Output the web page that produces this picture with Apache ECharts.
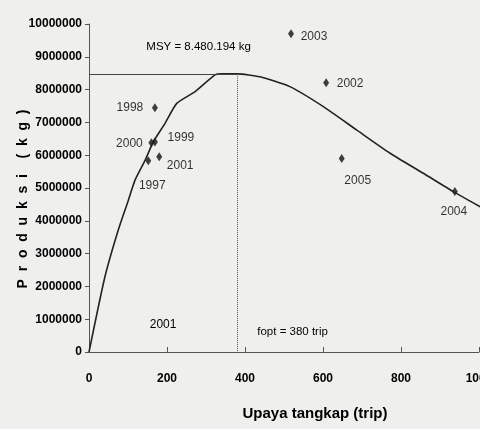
<!DOCTYPE html>
<html>
<head>
<meta charset="utf-8">
<script src="https://cdn.jsdelivr.net/npm/echarts@6/dist/echarts.min.js"></script>
<style>
html,body{margin:0;padding:0;background:#efefed;}
#c{width:480px;height:429px;}
</style>
</head>
<body>
<div id="c"></div>
<script>
// Observed catch (kg) vs effort (trip)
const years = ['1997','1998','1999','2000','2001','2002','2003','2004','2005'];
const effort = [152, 169, 169, 160, 180, 608, 518, 938, 648];
const catchKg = [5830000, 7450000, 6400000, 6380000, 5950000, 8210000, 9700000, 4890000, 5900000];
const labelOffsets = [[4,25],[-25,0],[26,-4],[-22,1],[21,9],[24,1],[23,3],[-1,20],[16,22]];

// Fitted production curve
const curveEffort = [0, 41, 75, 101, 118, 144, 165, 195, 225, 272, 323, 340, 380, 438, 515, 601, 686, 772, 857, 934, 1003];
const curveCatch = [0, 2300000, 3720000, 4630000, 5240000, 5850000, 6410000, 6970000, 7580000, 7940000, 8450000, 8480194, 8480194, 8390000, 8090000, 7480000, 6770000, 6060000, 5450000, 4890000, 4430000];

const MSY = 8480194;
const fopt = 380;
const xTicks = [0, 1000, 200];
const yTicks = [0, 10000000, 1000000];

const FONT = '"Liberation Sans",Arial,sans-serif';
const chart = echarts.init(document.getElementById('c'), null, {renderer:'canvas'});

const scatterData = years.map((y,i)=>({
  value:[effort[i], catchKg[i]],
  name:y,
  label:{show:true, position:'inside', offset:labelOffsets[i], formatter:y}
}));

chart.setOption({
  backgroundColor:'#efefed',
  animation:false,
  grid:{left:89, right:1, top:24, bottom:77, containLabel:false, outerBoundsMode:'none'},
  xAxis:{
    type:'value', min:xTicks[0], max:xTicks[1], interval:xTicks[2],
    name:'Upaya tangkap (trip)', nameLocation:'middle', nameGap:54, nameMoveOverlap:false,
    nameTextStyle:{fontFamily:FONT, fontWeight:'bold', fontSize:15, color:'#000', padding:[0,0,0,62]},
    axisLine:{lineStyle:{color:'#555', width:1}},
    axisTick:{inside:true, length:5, lineStyle:{color:'#555'}},
    axisLabel:{fontFamily:FONT, fontWeight:'bold', fontSize:12, color:'#000', margin:21, formatter:v=>String(v)},
    splitLine:{show:false}
  },
  yAxis:{
    type:'value', min:yTicks[0], max:yTicks[1], interval:yTicks[2],
    name:'P  r  o  d  u  k  s  i    (  k  g  )', nameLocation:'middle', nameGap:59, nameRotate:90, nameMoveOverlap:false,
    nameTextStyle:{fontFamily:FONT, fontWeight:'bold', fontSize:14, color:'#000', padding:[0,22,0,0]},
    axisLine:{show:true, lineStyle:{color:'#555', width:1}},
    axisTick:{show:true, length:4, lineStyle:{color:'#555'}},
    axisLabel:{fontFamily:FONT, fontWeight:'bold', fontSize:12, color:'#000', margin:7, formatter:v=>String(v)},
    splitLine:{show:false}
  },
  series:[
    {
      type:'line', data:curveEffort.map((e,i)=>[e, curveCatch[i]]),
      smooth:0.2, symbol:'none', lineStyle:{color:'#222', width:1.6},
      markLine:{
        silent:true, symbol:'none', label:{show:false},
        data:[
          [{coord:[0, MSY], lineStyle:{type:'solid', color:'#444', width:1}}, {coord:[fopt, MSY]}],
          [{coord:[fopt, MSY], lineStyle:{type:'dotted', color:'#555', width:1}}, {coord:[fopt, 0]}]
        ]
      },
      markPoint:{
        symbol:'circle', symbolSize:0, silent:true,
        label:{show:true, position:'inside', fontFamily:FONT, fontSize:11.5, color:'#000'},
        data:[
          {coord:[281, 9300000], label:{formatter:'MSY = 8.480.194 kg'}},
          {coord:[522, 610000], label:{formatter:'fopt = 380 trip'}}
        ]
      }
    },
    {
      type:'scatter', data:scatterData, symbol:'diamond', symbolSize:[6,9],
      itemStyle:{color:'#111'},
      label:{fontFamily:FONT, fontSize:12, color:'#000'},
      markPoint:{
        symbol:'circle', symbolSize:0, silent:true,
        label:{show:true, position:'inside', fontFamily:FONT, fontSize:12, color:'#000'},
        data:[{coord:[190, 820000], label:{formatter:'2001'}}]
      }
    }
  ]
});
</script>
</body>
</html>
